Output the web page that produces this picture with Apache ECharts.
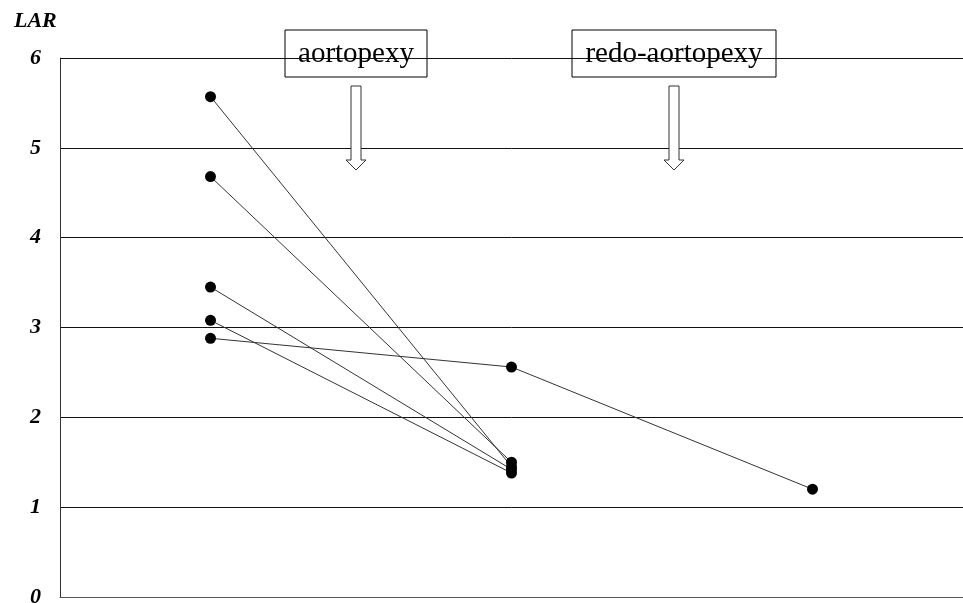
<!DOCTYPE html>
<html><head><meta charset="utf-8">
<script src="https://cdn.jsdelivr.net/npm/echarts@6/dist/echarts.min.js"></script>
<style>html,body{margin:0;padding:0;background:#fff;overflow:hidden}#c{width:963px;height:603px}</style>
</head><body><div id="c"></div>
<script>
const categories = ['pre', 'post-aortopexy', 'post-redo'];
const yTicks = [0, 1, 2, 3, 4, 5, 6];
const patient1 = [5.57, 1.45, null];
const patient2 = [4.68, 1.50, null];
const patient3 = [3.45, 1.42, null];
const patient4 = [3.08, 1.38, null];
const patient5 = [2.88, 2.56, 1.20];
const annotations = ['aortopexy', 'redo-aortopexy'];
const yName = 'LAR';

const chart = echarts.init(document.getElementById('c'));
const serif = '"Liberation Serif","Times New Roman",serif';
const mk = d => ({
  type: 'line', data: d, connectNulls: false, symbol: 'circle', symbolSize: 11,
  itemStyle: { color: '#000' }, lineStyle: { color: '#333', width: 1 }, animation: false, z: 3
});
function arrow(cx) {
  return {
    type: 'polygon', z: 10,
    shape: { points: [[cx-5,86],[cx+5,86],[cx+5,160],[cx+10,160],[cx,170],[cx-10,160],[cx-5,160]] },
    style: { fill: '#fff', stroke: '#333', lineWidth: 1 }
  };
}
function box(x, w, text) {
  return {
    type: 'group', z: 10, children: [
      { type: 'rect', shape: { x: x, y: 30, width: w, height: 47 }, style: { fill: '#fff', stroke: '#000', lineWidth: 1 } },
      { type: 'text', style: { x: x + w/2, y: 54, text: text, font: '29px ' + serif, fill: '#000', align: 'center', verticalAlign: 'middle' } }
    ]
  };
}
chart.setOption({
  animation: false,
  grid: { left: 60, right: 0, top: 58, bottom: 6, outerBoundsMode: 'none', containLabel: false },
  xAxis: {
    type: 'category', data: categories, boundaryGap: true,
    axisLine: { show: true, lineStyle: { color: '#555', width: 1 } },
    axisTick: { show: false }, axisLabel: { show: false }, splitLine: { show: false }
  },
  yAxis: {
    type: 'value', min: yTicks[0], max: yTicks[yTicks.length-1], interval: 1,
    axisLine: { show: true, lineStyle: { color: '#333', width: 1 } },
    axisTick: { show: false },
    axisLabel: { margin: 19, color: '#000', fontFamily: serif, fontSize: 22, fontWeight: 'bold', fontStyle: 'italic' },
    splitLine: { lineStyle: { color: '#111', width: 1 } }
  },
  series: [mk(patient1), mk(patient2), mk(patient3), mk(patient4), mk(patient5)],
  graphic: [
    { type: 'text', left: 14, top: 10, z: 10, style: { text: yName, font: 'italic bold 22px ' + serif, fill: '#000' } },
    box(285, 142, annotations[0]),
    box(572, 204, annotations[1]),
    arrow(356),
    arrow(674)
  ]
});
</script></body></html>
